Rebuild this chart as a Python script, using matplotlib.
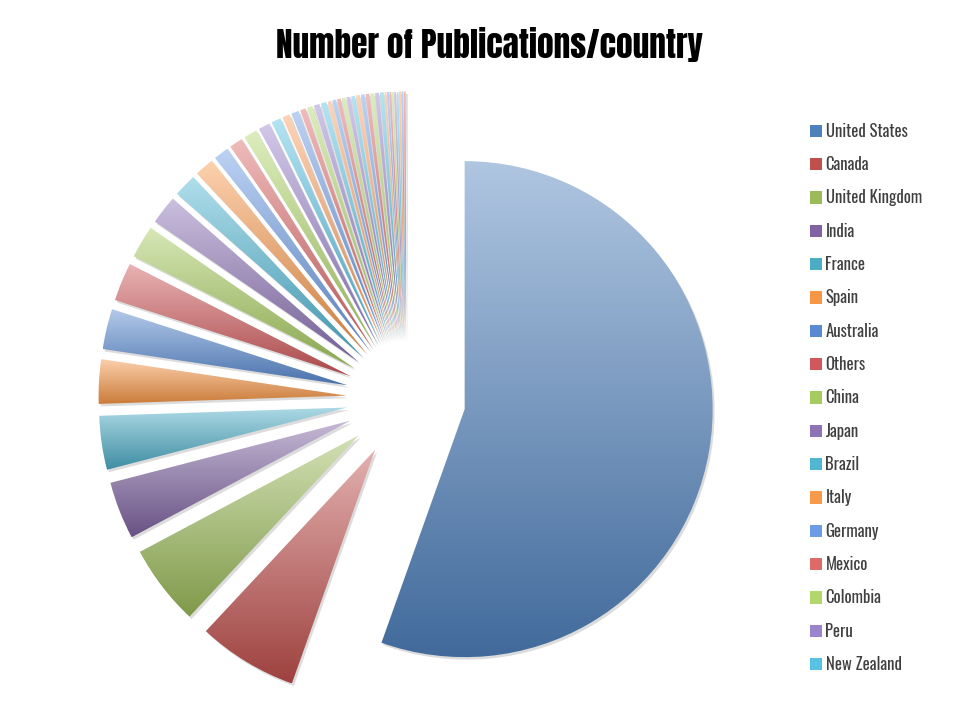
import numpy as np
import matplotlib
matplotlib.use("Agg")
import matplotlib.pyplot as plt
from matplotlib.patches import Patch, PathPatch
from matplotlib.transforms import Affine2D
from matplotlib.colors import to_rgb
import logging
logging.getLogger("matplotlib.font_manager").setLevel(logging.ERROR)

# ---- data (approximate publication counts) ----
countries = ["United States", "Canada", "United Kingdom", "India", "France", "Spain",
             "Australia", "Others", "China", "Japan", "Brazil", "Italy", "Germany",
             "Mexico", "Colombia", "Peru", "New Zealand"]
country_counts = [443, 52, 42, 30, 28, 23, 21, 20, 17, 15, 12, 10, 8, 7, 7, 6, 5]
# further small slices (not shown in the legend)
tail_counts = [4, 4, 3, 3, 3, 3, 2, 2, 2,
               2, 2, 2, 2, 2, 2, 2, 2, 2, 1, 1, 1, 1, 1, 1, 1, 1, 1]
title = "Number of Publications/country"

values = country_counts + tail_counts

tier1 = ["#4F81BD", "#C0504D", "#9BBB59", "#8064A2", "#4BACC6", "#F79646"]
tier2 = ["#5A8BD2", "#D0585A", "#A6CB5E", "#8C73B6", "#4FB6D4", "#F9994C"]
tier3 = ["#6C9CE6", "#DE6A6A", "#B2D86C", "#9A84CC", "#58C2E4", "#FBA060"]
palette = tier1 + tier2 + tier3


def color_for(i):
    if i < 18:
        return palette[i]
    return tier3[i % 6]


W, H = 956, 718
fig = plt.figure(figsize=(W / 100, H / 100), dpi=100)
ax = fig.add_axes([0, 0, 1, 1])

cx, cy, rpx = 406, 399, 248
explode = [0.24] * len(values)
wedges, _ = ax.pie(values, explode=explode, startangle=90, counterclock=False,
                   radius=1.0, wedgeprops=dict(linewidth=0))
ax.set_aspect("auto")
ax.axis("off")

grad = np.linspace(0, 1, 256)
shadow_off = Affine2D().translate(2.0, -2.5)

for i, w in enumerate(wedges):
    base = np.array(to_rgb(color_for(i)))
    top = base + (1 - base) * 0.55
    bot = base * 0.82
    path = w.get_patch_transform().transform_path(w.get_path())
    verts = path.vertices
    xmin, ymin = verts.min(axis=0)
    xmax, ymax = verts.max(axis=0)
    sh = PathPatch(path, facecolor=(0.55, 0.55, 0.55), alpha=0.3, linewidth=0,
                   zorder=0.5, transform=ax.transData + shadow_off)
    ax.add_patch(sh)
    w.set_facecolor("none")
    w.set_zorder(2)
    img = np.zeros((256, 1, 3))
    for c in range(3):
        img[:, 0, c] = top[c] + (bot[c] - top[c]) * grad
    im = ax.imshow(img, extent=(xmin, xmax, ymin, ymax), origin="upper",
                   aspect="auto", interpolation="bilinear", zorder=1)
    im.set_clip_path(w)

ax.set_xlim(-cx / rpx, (W - cx) / rpx)
ax.set_ylim(-(H - cy) / rpx, cy / rpx)

title_font = ["Anton", "Oswald", "Barlow Condensed", "DejaVu Sans"]
narrow = ["Oswald", "Barlow Condensed", "Asap Condensed", "DejaVu Sans"]
fig.text(489 / W, 1 - 45 / H, title, ha="center", va="center",
         fontsize=24, fontweight="heavy", family=title_font, color="black")

handles = [Patch(facecolor=color_for(i), edgecolor="none") for i in range(len(countries))]
leg = fig.legend(handles, countries, loc="upper left",
                 bbox_to_anchor=(803 / W, 1 - 116 / H), frameon=False,
                 prop=dict(family=narrow, size=12), labelcolor="#404040",
                 handlelength=0.75, handleheight=0.75, handletextpad=0.2,
                 labelspacing=0.98, borderaxespad=0)

fig.savefig("out.png", dpi=100)
